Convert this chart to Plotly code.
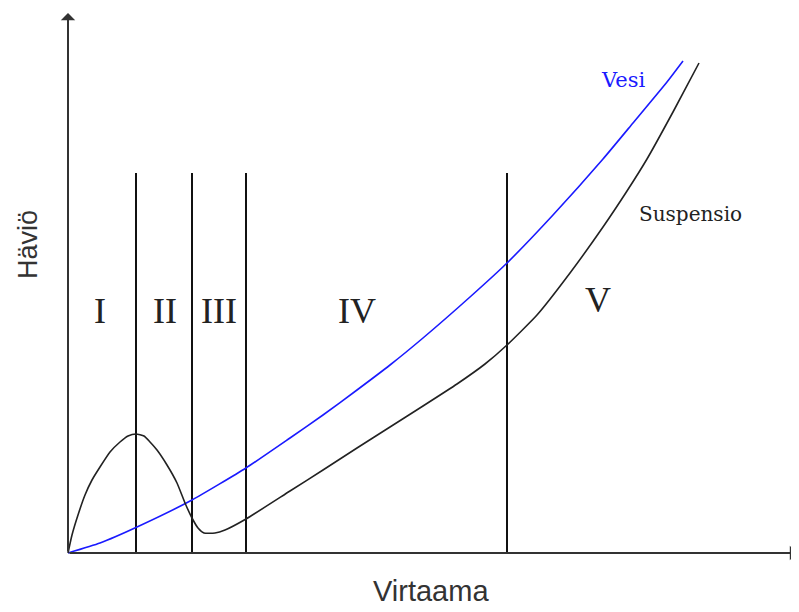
import plotly.graph_objects as go

# Data (units: Virtaama along x, Häviö along y, origin at axes crossing)
vesi_x = [0, 32, 69, 124, 178, 222, 255, 289, 322, 355, 402, 439, 485, 535, 565, 599, 615]
vesi_y = [0, 10, 26, 53, 85, 115, 138, 163, 188, 215, 256, 290, 338, 394, 430, 471, 492]

susp_x = [0, 4, 10, 17, 24, 32, 42, 52, 60, 68, 76, 82, 89, 99, 109, 117, 124, 130, 136, 147, 157, 178,
          222, 255, 289, 322, 355, 389, 417, 439, 469, 502, 535, 559, 579, 605, 631]
susp_y = [0, 18, 38, 58, 73, 86, 101, 111, 117, 119, 117, 111, 103, 88, 70, 50, 35, 25, 20, 20, 23, 34,
          62, 83, 105, 126, 147, 169, 189, 208, 238, 280, 326, 362, 394, 441, 490]

boundaries_x = [68, 124, 178, 439]
boundary_top = 380

region_labels = ["I", "II", "III", "IV", "V"]
region_label_x = [32, 97, 151, 289, 530]
region_label_y = [242, 242, 242, 242, 253]

x_axis_end = 729
y_axis_end = 540

fig = go.Figure()

# region boundaries
bx, by = [], []
for b in boundaries_x:
    bx += [b, b, None]
    by += [0, boundary_top, None]
fig.add_trace(go.Scatter(x=bx, y=by, mode="lines",
                         line=dict(color="#111111", width=2), hoverinfo="skip"))

fig.add_trace(go.Scatter(x=vesi_x, y=vesi_y, mode="lines", name="Vesi",
                         line=dict(color="#1a1aff", width=1.6, shape="spline", smoothing=0.5)))
fig.add_trace(go.Scatter(x=susp_x, y=susp_y, mode="lines", name="Suspensio",
                         line=dict(color="#222222", width=1.6, shape="spline", smoothing=0.5)))

# axes with arrows
fig.add_annotation(x=x_axis_end, y=0, ax=0, ay=0, xref="x", yref="y", axref="x", ayref="y",
                   showarrow=True, arrowhead=1, arrowsize=1.2, arrowwidth=2, arrowcolor="#333333", text="")
fig.add_annotation(x=0, y=y_axis_end, ax=0, ay=0, xref="x", yref="y", axref="x", ayref="y",
                   showarrow=True, arrowhead=1, arrowsize=1.2, arrowwidth=2, arrowcolor="#333333", text="")

for t, lx, ly in zip(region_labels, region_label_x, region_label_y):
    fig.add_annotation(x=lx, y=ly, text=t, showarrow=False,
                       font=dict(family="Liberation Serif", size=36, color="#222222"))

fig.add_annotation(x=555, y=473, text="Vesi", showarrow=False,
                   font=dict(family="DejaVu Serif", size=21, color="#1a1aff"))
fig.add_annotation(x=622, y=339, text="Suspensio", showarrow=False,
                   font=dict(family="DejaVu Serif", size=20, color="#222222"))

fig.add_annotation(x=363, y=-38, text="Virtaama", showarrow=False,
                   font=dict(family="Liberation Sans", size=29, color="#333333"))
fig.add_annotation(x=-40, y=308, text="Häviö", showarrow=False, textangle=-90,
                   font=dict(family="Liberation Sans", size=27, color="#333333"))

# page body has an 8px margin: size the figure to fit and map the origin accordingly
fig.update_layout(
    width=791, height=604,
    margin=dict(l=0, r=0, t=0, b=0),
    paper_bgcolor="white", plot_bgcolor="white",
    showlegend=False,
    xaxis=dict(range=[-60, 731], visible=False, fixedrange=True),
    yaxis=dict(range=[-59, 545], visible=False, fixedrange=True),
)

fig.write_html("out.html")
